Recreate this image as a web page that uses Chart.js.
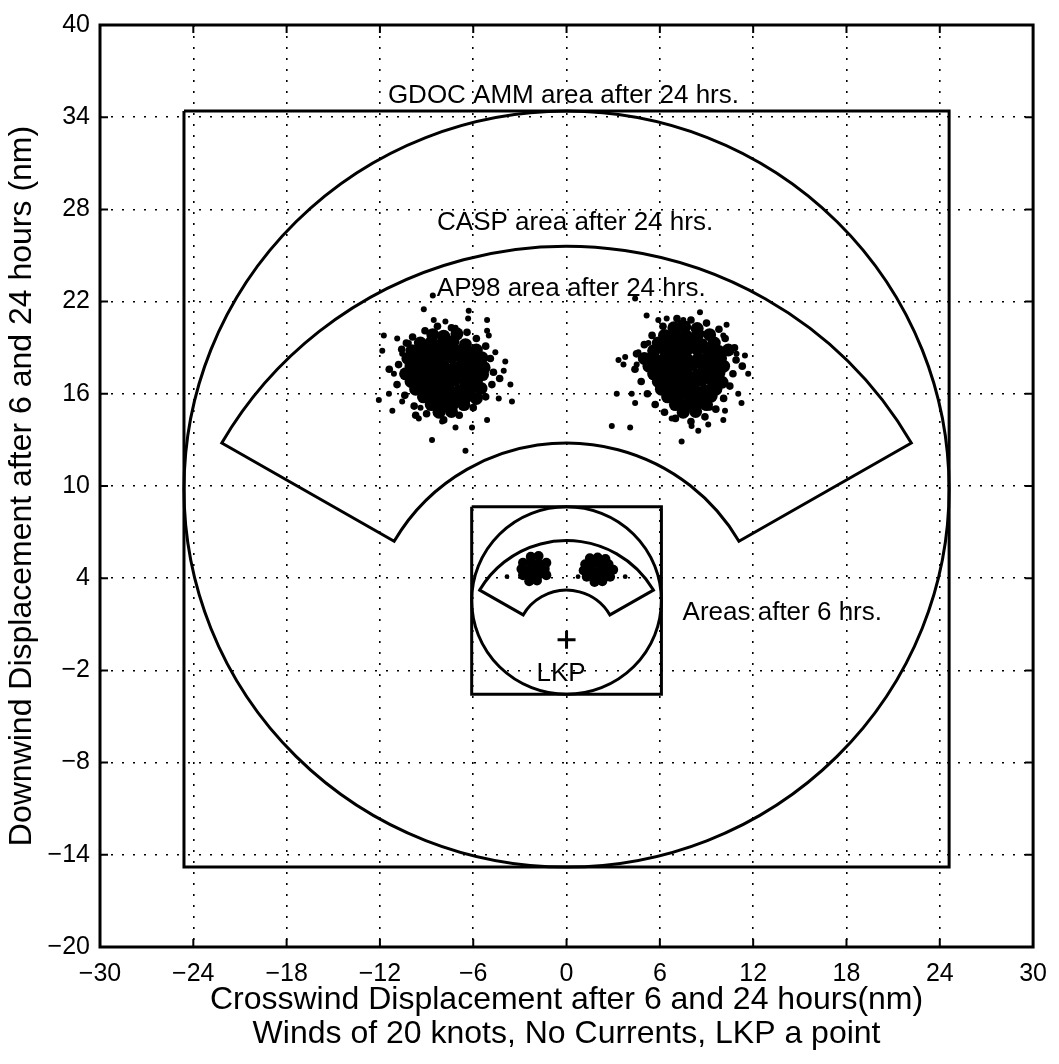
<!DOCTYPE html>
<html>
<head>
<meta charset="utf-8">
<script src="https://cdn.jsdelivr.net/npm/chart.js@4.4.1/dist/chart.umd.min.js"></script>
<style>
  html, body { margin: 0; padding: 0; background: #fff; }
  #wrap { width: 1059px; height: 1064px; }
</style>
</head>
<body>
<div id="wrap"><canvas id="chart" width="1059" height="1064"></canvas></div>
<script>
/* ── axes ── */
const X_TICKS = [-30, -24, -18, -12, -6, 0, 6, 12, 18, 24, 30];
const Y_TICKS = [-20, -14, -8, -2, 4, 10, 16, 22, 28, 34, 40];

/* ── search areas (nm) ── */
const BOX_24 = [[-24.6, 34.4], [24.6, 34.4], [24.6, -14.8], [-24.6, -14.8], [-24.6, 34.4]];
const BOX_6  = [[-6.1, 8.65], [6.1, 8.65], [6.1, -3.55], [-6.1, -3.55], [-6.1, 8.65]];
// [cx, cy, r]
const CIRCLES = [[0, 9.8, 24.6], [0, 2.55, 6.1]];
// [cx, cy, rInner, rOuter, deg0, deg1]
const SECTORS = [[0, 0, 12.8, 25.6, 30, 150], [0, 0, 3.22, 6.45, 30, 150]];
const LKP = [[0, 0]];

/* ── AP98 particles after 24 hrs ── */
const CORE_L24 = [
  [-8.6,19.85],[-7.9,19.75],[-7.05,19.9],
  [-9.4,19.3],[-8.7,19.35],[-8.0,19.25],[-7.3,19.4],[-6.5,19.2],
  [-9.95,18.8],[-9.2,18.85],[-8.5,18.75],[-7.8,18.9],[-7.1,18.8],[-6.4,18.7],[-5.8,18.85],
  [-10.2,18.3],[-9.5,18.35],[-8.8,18.25],[-8.1,18.3],[-7.4,18.4],[-6.7,18.2],[-6.0,18.3],[-5.45,18.35],
  [-10.0,17.8],[-9.3,17.75],[-8.6,17.85],[-7.9,17.8],[-7.2,17.7],[-6.5,17.85],[-5.85,17.8],[-5.3,17.7],
  [-10.35,17.3],[-9.6,17.25],[-8.9,17.35],[-8.2,17.3],[-7.5,17.2],[-6.8,17.35],[-6.1,17.3],[-5.4,17.25],
  [-10.0,16.8],[-9.3,16.85],[-8.6,16.75],[-7.9,16.8],[-7.2,16.9],[-6.5,16.75],[-5.8,16.8],
  [-9.7,16.3],[-9.0,16.25],[-8.3,16.35],[-7.6,16.3],[-6.9,16.2],[-6.2,16.3],[-5.5,16.35],
  [-9.2,15.8],[-8.5,15.85],[-7.8,15.75],[-7.1,15.8],[-6.4,15.85],[-5.8,15.7],
  [-8.7,15.3],[-8.0,15.25],[-7.3,15.35],[-6.6,15.3],
  [-8.2,14.8],[-7.4,14.85]
];
const RING_L24 = [
  [-10.6,18.9],[-10.8,17.9],[-10.9,16.6],[-10.4,15.9],[-9.8,15.2],[-9.0,14.7],[-7.9,14.3],
  [-6.9,14.6],[-6.0,15.1],[-5.2,15.8],[-4.8,16.6],[-4.7,17.4],[-4.9,18.3],[-5.2,19.1],
  [-5.8,19.6],[-6.4,20.0],[-7.4,20.3],[-8.3,20.4],[-9.1,20.1],[-9.9,19.7],[-10.3,19.3],
  [-4.3,17.0],[-11.4,17.6],[-9.7,14.6]
];
const OUT_L24 = [
  [-9.18,21.5],[-6.29,21.4],[-6.33,20.9],[-5.11,20.8],[-8.54,20.8],[-5.0,19.8],[-11.75,19.8],
  [-11.85,18.8],[-10.57,18.6],[-11.1,17.3],[-3.94,18.1],[-4.04,17.5],[-3.61,16.6],[-3.51,15.5],
  [-12.07,15.6],[-11.42,16.0],[-11.2,14.9],[-10.57,15.5],[-9.39,15.1],[-9.5,14.4],[-8.65,13.0],
  [-6.5,12.3],[-7.14,13.8],[-6.08,13.8],[-5.11,14.3],[-4.36,15.7],[-4.58,18.7],[-5.11,20.1],
  [-7.14,20.3],[-7.79,20.7],[-10.14,19.3],[-10.89,19.6],[-8.0,14.2],[-8.6,22.4]
];
const CORE_R24 = [
  [6.9,20.3],[7.6,20.35],[8.4,20.25],
  [6.3,19.8],[7.0,19.85],[7.7,19.75],[8.4,19.8],[9.2,19.85],
  [5.9,19.3],[6.6,19.25],[7.3,19.35],[8.0,19.3],[8.7,19.2],[9.5,19.3],
  [5.6,18.8],[6.3,18.85],[7.0,18.75],[7.7,18.8],[8.4,18.9],[9.1,18.8],[9.8,18.75],[10.4,18.85],
  [5.0,18.3],[5.7,18.25],[6.4,18.35],[7.1,18.3],[7.8,18.2],[8.5,18.3],[9.2,18.35],[9.9,18.3],
  [5.3,17.8],[6.0,17.85],[6.7,17.75],[7.4,17.8],[8.1,17.9],[8.8,17.8],[9.5,17.75],[10.1,17.8],
  [5.6,17.3],[6.3,17.25],[7.0,17.35],[7.7,17.3],[8.4,17.2],[9.1,17.3],[9.8,17.35],
  [5.9,16.8],[6.6,16.85],[7.3,16.75],[8.0,16.8],[8.7,16.9],[9.4,16.8],[10.0,16.75],
  [6.1,16.3],[6.8,16.25],[7.5,16.35],[8.2,16.3],[8.9,16.2],[9.6,16.3],
  [6.5,15.8],[7.2,15.85],[7.9,15.75],[8.6,15.8],[9.3,15.85],
  [7.0,15.3],[7.7,15.25],[8.4,15.35],[9.0,15.3],
  [7.5,14.8],[8.3,14.85]
];
const RING_R24 = [
  [4.5,18.6],[4.4,17.6],[4.8,16.8],[5.2,16.0],[5.7,15.3],[6.3,14.8],[7.0,14.4],[8.0,14.2],
  [8.9,14.5],[9.6,15.0],[10.1,15.7],[10.5,16.5],[10.7,17.3],[10.9,18.2],[10.8,19.0],[10.2,19.6],
  [9.8,20.2],[9.0,20.6],[8.0,20.8],[7.1,20.9],[6.2,20.4],[5.5,19.8],[5.0,19.2],[11.3,17.8]
];
const OUT_R24 = [
  [5.15,21.1],[4.41,22.2],[8.58,21.3],[5.9,20.8],[6.44,20.9],[10.29,20.5],[10.08,19.8],
  [7.51,20.8],[3.34,18.2],[3.77,18.4],[5.26,19.3],[4.62,18.7],[10.93,18.6],[11.47,18.5],
  [11.68,17.3],[3.23,16.0],[4.19,16.0],[4.41,15.4],[2.91,13.9],[4.09,13.8],[11.04,16.0],
  [11.25,15.4],[10.19,14.9],[10.08,14.3],[9.11,14.0],[8.04,13.9],[8.47,13.6],[7.4,12.9],
  [6.76,14.4],[9.22,15.1],[7.3,20.6],[8.79,19.9],[3.66,17.9],[4.51,17.9]
];

/* ── AP98 particles after 6 hrs ── */
const CORE_L6 = [
  [-2.3,5.4],[-1.8,5.45],
  [-2.8,5.0],[-2.3,5.05],[-1.8,4.95],[-1.3,5.0],
  [-2.9,4.6],[-2.4,4.55],[-1.9,4.65],[-1.4,4.6],
  [-2.8,4.2],[-2.3,4.15],[-1.8,4.25],[-1.3,4.2],
  [-2.4,3.8],[-1.9,3.85]
];
const CORE_R6 = [
  [1.5,5.3],[2.0,5.35],[2.5,5.25],
  [1.2,4.9],[1.7,4.95],[2.2,4.85],[2.7,4.9],
  [1.1,4.5],[1.6,4.55],[2.1,4.45],[2.6,4.5],[3.0,4.55],
  [1.3,4.1],[1.8,4.15],[2.3,4.05],[2.8,4.1],
  [1.8,3.75],[2.3,3.8]
];
const OUT_6 = [[-3.83,4.1],[3.77,4.1],[0.74,4.1]];

/* ── annotations: [text, x, y, align] ── */
const NOTES = [
  ['GDOC AMM area after 24 hrs.', -0.2, 35.4, 'center'],
  ['CASP area after 24 hrs.', 0.55, 27.1, 'center'],
  ['AP98 area after 24 hrs.', 0.3, 22.8, 'center'],
  ['Areas after 6 hrs.', 7.46, 1.75, 'left'],
  ['LKP', -0.35, -2.2, 'center'],
];

const FONT = '"Liberation Sans", Arial, Helvetica, sans-serif';
Chart.defaults.font.family = FONT;
Chart.defaults.color = '#000';

const pts = arr => arr.map(([x, y]) => ({ x, y }));

function dots(data, r) {
  return {
    type: 'scatter',
    data: pts(data),
    pointRadius: r,
    pointHoverRadius: r,
    pointBorderWidth: 0,
    backgroundColor: '#000',
    borderColor: '#000',
  };
}

function outline(data) {
  return {
    type: 'line',
    data: pts(data),
    borderColor: '#000',
    borderWidth: 3,
    pointRadius: 0,
    fill: false,
    tension: 0,
  };
}

const areaPlugin = {
  id: 'areas',
  beforeDatasetsDraw(chart) {
    const { ctx, scales: { x, y } } = chart;
    const kx = Math.abs(x.getPixelForValue(1) - x.getPixelForValue(0));
    const ky = Math.abs(y.getPixelForValue(1) - y.getPixelForValue(0));
    ctx.save();
    ctx.strokeStyle = '#000';
    ctx.lineWidth = 3;
    CIRCLES.forEach(([cx, cy, r]) => {
      ctx.beginPath();
      ctx.ellipse(x.getPixelForValue(cx), y.getPixelForValue(cy), r * kx, r * ky, 0, 0, Math.PI * 2);
      ctx.stroke();
    });
    SECTORS.forEach(([cx, cy, ri, ro, d0, d1]) => {
      const px = x.getPixelForValue(cx), py = y.getPixelForValue(cy);
      const a0 = -d1 * Math.PI / 180, a1 = -d0 * Math.PI / 180;
      ctx.beginPath();
      ctx.ellipse(px, py, ro * kx, ro * ky, 0, a0, a1, false);
      ctx.ellipse(px, py, ri * kx, ri * ky, 0, a1, a0, true);
      ctx.closePath();
      ctx.stroke();
    });
    ctx.restore();
  },
  afterDatasetsDraw(chart) {
    const { ctx, chartArea: a, scales: { x, y } } = chart;
    ctx.save();
    // text inside plot
    ctx.fillStyle = '#000';
    ctx.font = '26px ' + FONT;
    ctx.textBaseline = 'middle';
    NOTES.forEach(([t, vx, vy, al]) => {
      ctx.textAlign = al;
      ctx.fillText(t, x.getPixelForValue(vx), y.getPixelForValue(vy));
    });
    // inward ticks
    ctx.strokeStyle = '#000';
    ctx.lineWidth = 2;
    ctx.beginPath();
    X_TICKS.slice(1, -1).forEach(v => {
      const p = x.getPixelForValue(v);
      ctx.moveTo(p, a.bottom); ctx.lineTo(p, a.bottom - 8);
      ctx.moveTo(p, a.top); ctx.lineTo(p, a.top + 8);
    });
    Y_TICKS.slice(1, -1).forEach(v => {
      const p = y.getPixelForValue(v);
      ctx.moveTo(a.left, p); ctx.lineTo(a.left + 8, p);
      ctx.moveTo(a.right, p); ctx.lineTo(a.right - 8, p);
    });
    ctx.stroke();
    // frame
    ctx.lineWidth = 3;
    ctx.strokeRect(a.left, a.top, a.right - a.left, a.bottom - a.top);
    ctx.restore();
  }
};

const gridOpts = { color: '#000', lineWidth: 1.6, drawTicks: false };
const borderOpts = { display: false, dash: [2, 9] };
const minus = v => String(v).replace('-', '\u2212');

new Chart(document.getElementById('chart'), {
  type: 'scatter',
  data: {
    datasets: [
      outline(BOX_24),
      outline(BOX_6),
      dots(CORE_L24, 6.5),
      dots(CORE_R24, 6.5),
      dots(RING_L24, 3.8),
      dots(RING_R24, 3.8),
      dots(OUT_L24, 3),
      dots(OUT_R24, 3),
      dots(CORE_L6, 5),
      dots(CORE_R6, 5),
      dots(OUT_6, 2.4),
      {
        type: 'scatter',
        data: pts(LKP),
        pointStyle: 'cross',
        pointRadius: 9,
        pointBorderWidth: 3,
        borderColor: '#000',
        backgroundColor: '#000',
      },
    ]
  },
  options: {
    responsive: false,
    animation: false,
    devicePixelRatio: 1,
    layout: { padding: { top: 17, right: 22, bottom: 0, left: 0 } },
    plugins: { legend: { display: false }, tooltip: { enabled: false } },
    scales: {
      x: {
        type: 'linear',
        min: -30, max: 30,
        afterBuildTicks: s => { s.ticks = X_TICKS.map(v => ({ value: v })); },
        afterFit: s => { s.height = 117; },
        grid: gridOpts,
        border: borderOpts,
        ticks: { font: { size: 25 }, padding: 12, maxRotation: 0, callback: minus },
        title: {
          display: true,
          text: ['Crosswind Displacement after 6 and 24 hours(nm)', 'Winds of 20 knots, No Currents, LKP a point'],
          font: { size: 32, lineHeight: 1.06 },
          padding: { top: 0, bottom: 13 },
        },
      },
      y: {
        type: 'linear',
        min: -20, max: 40,
        afterBuildTicks: s => { s.ticks = Y_TICKS.map(v => ({ value: v })); },
        afterFit: s => { s.width = 100; },
        grid: gridOpts,
        border: borderOpts,
        ticks: { font: { size: 25 }, padding: 10, callback: minus },
        title: {
          display: true,
          text: 'Downwind Displacement after 6 and 24 hours (nm)',
          font: { size: 32, lineHeight: 1.0 },
          padding: { top: 6, bottom: 0 },
        },
      }
    }
  },
  plugins: [areaPlugin]
});
</script>
</body>
</html>
